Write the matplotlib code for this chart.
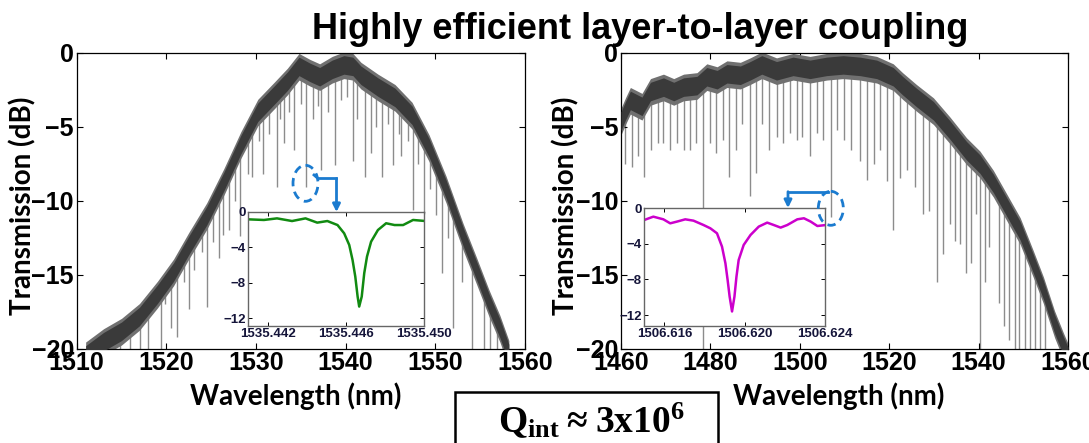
import numpy as np
import matplotlib
matplotlib.use('Agg')
import matplotlib.pyplot as plt
from matplotlib.patches import Ellipse, Rectangle

W, H = 1089, 443

# ---- left spectrum: centre of the noisy band (nm, dB)
left_wl = [1511.0, 1513.0, 1515.0, 1517.0, 1519.0, 1520.8, 1522.5, 1524.5, 1526.4, 1528.3,
           1530.2, 1532.1, 1533.5, 1534.8, 1536.0, 1537.1, 1538.5, 1539.8, 1540.8, 1541.7,
           1543.6, 1545.5, 1547.4, 1549.3, 1551.2, 1553.1, 1554.6, 1556.0, 1557.2, 1558.2]
left_db = [-20.4, -19.5, -18.8, -17.8, -16.3, -14.8, -13.0, -11.0, -8.7, -6.2,
           -4.0, -2.8, -1.9, -0.9, -1.3, -1.6, -1.1, -0.8, -0.9, -1.5,
           -2.3, -3.0, -4.2, -6.4, -9.2, -12.4, -14.7, -16.9, -18.6, -20.3]
# resonance dips, left
left_dip_wl = [1513.6, 1514.8, 1516.0, 1517.1, 1518.0, 1519.4, 1519.9, 1520.5, 1521.2, 1522.0,
               1522.5, 1523.1, 1524.0, 1524.5, 1525.2, 1525.9, 1526.3, 1527.0, 1527.6, 1528.2,
               1529.1, 1529.5, 1530.3, 1530.8, 1531.5, 1532.3, 1532.7, 1533.1, 1533.7, 1534.2,
               1535.0, 1535.6, 1536.4, 1536.9, 1537.3, 1538.0, 1538.8, 1539.5, 1540.2, 1540.8,
               1541.3, 1542.1, 1542.8, 1543.4, 1544.1, 1544.7, 1545.3, 1545.9, 1546.2, 1547.0,
               1547.5, 1548.1, 1548.7, 1549.4, 1550.1, 1550.7, 1551.4, 1552.0, 1553.0, 1554.1,
               1555.4, 1556.1, 1556.9, 1557.6]
left_dip_db = [-20, -20, -20, -20, -20, -20, -17.0, -18.6, -19.2, -15.5,
               -17.3, -14.7, -13.5, -17.2, -12.8, -13.9, -12.3, -12.0, -10.0, -12.4,
               -8.2, -8.4, -6.0, -8.2, -5.5, -9.1, -4.5, -6.1, -4.0, -6.6,
               -3.5, -9.1, -4.5, -3.6, -7.9, -4.0, -7.6, -3.2, -3.0, -7.3,
               -4.5, -8.4, -6.8, -5.0, -8.4, -4.8, -7.6, -5.5, -7.0, -6.0,
               -10.6, -7.5, -10.9, -9.2, -11.0, -14.9, -12.5, -18.6, -15.5, -20,
               -20, -20, -20, -20]

# ---- right spectrum
right_wl = [1460.0, 1461.0, 1462.1, 1464.7, 1466.6, 1469.5, 1471.8, 1474.0, 1477.0, 1479.2,
            1481.5, 1483.7, 1486.7, 1488.9, 1491.5, 1494.8, 1498.5, 1502.3, 1506.0, 1509.7,
            1513.5, 1517.2, 1520.9, 1523.0, 1526.1, 1529.9, 1533.6, 1537.3, 1540.3, 1543.3,
            1546.3, 1549.3, 1552.2, 1554.5, 1557.0, 1559.0, 1560.0]
right_db = [-4.6, -3.9, -3.2, -3.6, -2.6, -2.3, -2.6, -2.3, -2.2, -1.6,
            -1.8, -1.4, -1.5, -1.2, -0.8, -1.2, -0.9, -1.1, -0.9, -0.8,
            -0.9, -1.1, -1.6, -2.2, -3.0, -3.9, -5.2, -6.6, -7.5, -8.8,
            -10.4, -12.0, -14.2, -16.0, -18.3, -19.8, -20.5]
right_dip_wl = [1461.0, 1462.5, 1463.7, 1465.2, 1466.6, 1468.2, 1469.5, 1471.0, 1472.5, 1474.0,
                1475.4, 1476.8, 1478.3, 1480.0, 1481.3, 1482.8, 1484.2, 1485.7, 1487.1, 1488.8,
                1490.3, 1491.6, 1493.1, 1494.8, 1496.3, 1497.8, 1499.3, 1500.6, 1502.3, 1503.8,
                1505.3, 1507.0, 1508.4, 1509.9, 1511.4, 1513.5, 1515.0, 1516.5, 1518.0, 1519.5,
                1520.9, 1522.4, 1523.9, 1525.8, 1527.5, 1529.0, 1530.6, 1532.1, 1533.6, 1534.7,
                1535.8, 1537.2, 1538.2, 1539.4, 1540.3, 1541.5, 1542.4, 1544.6, 1545.7, 1546.9,
                1548.1, 1549.1, 1550.4, 1551.5, 1552.6, 1553.7, 1554.9]
right_dip_db = [-7.5, -7.7, -7.0, -8.4, -6.6, -6.1, -6.1, -6.6, -6.1, -6.6,
                -6.6, -6.1, -20, -6.1, -6.8, -5.9, -8.4, -6.6, -4.8, -9.7,
                -8.1, -4.8, -6.6, -5.7, -6.1, -5.4, -5.9, -5.7, -7.0, -5.4,
                -5.9, -11.1, -5.2, -5.9, -6.6, -7.3, -8.6, -7.5, -6.6, -8.7,
                -12.0, -8.5, -7.9, -9.1, -10.9, -10.7, -15.5, -13.6, -11.6, -12.7,
                -12.9, -14.9, -14.2, -10.9, -20, -15.5, -13.1, -16.9, -18.5, -19.4,
                -20, -20, -20, -20, -20, -20, -20]

# ---- zoom on single resonances (insets)
green_wl = [1535.4410, 1535.4418, 1535.44247, 1535.44324, 1535.44393, 1535.44453, 1535.44505,
            1535.44557, 1535.44591, 1535.44617, 1535.44634, 1535.44648, 1535.44660, 1535.44668,
            1535.44681, 1535.44694, 1535.44708, 1535.44729, 1535.44764, 1535.44806, 1535.44849,
            1535.44893, 1535.44944, 1535.45008]
green_db = [-0.86, -0.93, -0.75, -1.05, -0.75, -1.23, -1.05,
            -1.5, -2.43, -3.74, -5.43, -7.3, -9.55, -10.67,
            -9.55, -6.9, -5.05, -3.37, -2.06, -1.3, -1.5,
            -1.5, -0.93, -1.05]
magenta_wl = [1506.61500, 1506.61545, 1506.61595, 1506.61629, 1506.61662, 1506.61704, 1506.61745,
              1506.61795, 1506.61829, 1506.61862, 1506.61887, 1506.61904, 1506.61915, 1506.61925,
              1506.61937, 1506.61949, 1506.61959, 1506.61970, 1506.61995, 1506.62029, 1506.62070,
              1506.62112, 1506.62145, 1506.62179, 1506.62212, 1506.62262, 1506.62295, 1506.62329,
              1506.62362, 1506.62404]
magenta_db = [-1.31, -0.94, -1.24, -1.69, -1.50, -1.24, -1.39,
              -1.88, -2.25, -2.81, -4.31, -6.18, -8.06, -9.93,
              -11.6, -9.93, -7.69, -5.81, -4.12, -3.0, -2.06,
              -1.61, -1.88, -2.17, -1.88, -1.24, -1.12, -1.5,
              -1.99, -1.88]

plt.rcParams['font.family'] = ['Liberation Sans', 'DejaVu Sans']
plt.rcParams['font.weight'] = 'bold'

fig = plt.figure(figsize=(W / 100, H / 100), dpi=100)


def px_rect(x0, y0, x1, y1):
    return [x0 / W, 1 - y1 / H, (x1 - x0) / W, (y1 - y0) / H]


def spectrum(rect, wl, db, dip_wl, dip_db, xlim, xticks):
    ax = fig.add_axes(rect)
    tops = np.interp(dip_wl, wl, db)
    ax.vlines(dip_wl, dip_db, tops, color='#8c8c8c', lw=1.0, zorder=1)
    db = np.array(db)
    # lighter fringe for the noise, dark core
    ax.fill_between(wl, db - 0.95, db + 0.85, color='#707070', lw=0, zorder=2)
    ax.fill_between(wl, db - 0.65, db + 0.6, color='#3a3a3a', lw=0, zorder=3)
    ax.set_xlim(xlim)
    ax.set_ylim(-20, 0)
    ax.set_xticks(xticks)
    ax.set_yticks([0, -5, -10, -15, -20])
    ax.tick_params(direction='in', length=4, width=0.8, top=True, right=True,
                   labelsize=18, pad=2)
    for s in ax.spines.values():
        s.set_linewidth(0.9)
    return ax


def inset(rect, wl, db, color, xlim, ylim, xticks):
    ia = fig.add_axes(rect, zorder=5)
    ia.plot(wl, db, color=color, lw=1.8)
    ia.set_xlim(xlim)
    ia.set_ylim(ylim)
    ia.set_xticks(xticks)
    ia.set_xticklabels([f'{t:.3f}' for t in xticks])
    ia.set_yticks([0, -4, -8, -12])
    ia.tick_params(direction='in', length=3, width=0.7, top=True, right=True,
                   labelsize=9.5, pad=2, labelcolor='#15153a')
    for s in ia.spines.values():
        s.set_color('#666666')
        s.set_linewidth(1.0)
    return ia


ax1 = spectrum(px_rect(76.7, 52.7, 525, 348.7), left_wl, left_db, left_dip_wl, left_dip_db,
               (1510, 1560), [1510, 1520, 1530, 1540, 1550, 1560])
ax2 = spectrum(px_rect(621, 52.7, 1068, 348.7), right_wl, right_db, right_dip_wl, right_dip_db,
               (1460, 1560), [1460, 1480, 1500, 1520, 1540, 1560])

inset(px_rect(248.3, 211.7, 424, 325.5), green_wl, green_db, '#118a11',
      (1535.441, 1535.450), (-12.8, 0), [1535.442, 1535.446, 1535.450])
inset(px_rect(644.3, 208.3, 825, 325.7), magenta_wl, magenta_db, '#cc00cc',
      (1506.615, 1506.624), (-13.2, 0), [1506.616, 1506.620, 1506.624])

# overlay in pixel coordinates for title, labels and annotations
ov = fig.add_axes([0, 0, 1, 1], zorder=10)
ov.set_xlim(0, W)
ov.set_ylim(H, 0)
ov.axis('off')
ov.patch.set_alpha(0)

ov.text(640, 39.3, 'Highly efficient layer-to-layer coupling', ha='center', va='baseline',
        fontsize=26, fontweight='bold')

lab = dict(family=['Lato', 'DejaVu Sans'], fontweight='bold', fontsize=20)
ov.text(22.5, 206, 'Transmission (dB)', rotation=90, ha='center', va='center', **lab)
ov.text(565.5, 206, 'Transmission (dB)', rotation=90, ha='center', va='center', **lab)
ov.text(296, 396, 'Wavelength (nm)', ha='center', va='center', **lab)
ov.text(839, 396, 'Wavelength (nm)', ha='center', va='center', **lab)

blue = '#1b7bcf'
ov.add_patch(Ellipse((305.5, 183.3), 25, 36, fill=False, ec=blue, lw=2, ls=(0, (3, 2))))
ov.plot([314, 318, 336.5], [175, 178.5, 178.5], color=blue, lw=2)
ov.annotate('', xy=(336.5, 212), xytext=(336.5, 178.5),
            arrowprops=dict(arrowstyle='-|>', color=blue, lw=2, mutation_scale=11, shrinkA=0, shrinkB=0))
ov.add_patch(Ellipse((830.8, 208.3), 25, 34, fill=False, ec=blue, lw=2, ls=(0, (3, 2))))
ov.plot([828, 788], [191.7, 191.7], color=blue, lw=2)
ov.annotate('', xy=(788, 208), xytext=(788, 191.7),
            arrowprops=dict(arrowstyle='-|>', color=blue, lw=2, mutation_scale=11, shrinkA=0, shrinkB=0))

ov.add_patch(Rectangle((455, 391.7), 262.7, 70, fill=True, fc='white', ec='black', lw=1.8,
                       clip_on=False))
plt.rcParams['mathtext.fontset'] = 'custom'
plt.rcParams['mathtext.rm'] = 'Liberation Serif:bold'
plt.rcParams['mathtext.bf'] = 'Liberation Serif:bold'
ov.text(591, 420, r'$\mathbf{Q_{int}\approx 3x10^{6}}$', ha='center', va='center',
        fontsize=27)

fig.savefig('out.png', dpi=100)
